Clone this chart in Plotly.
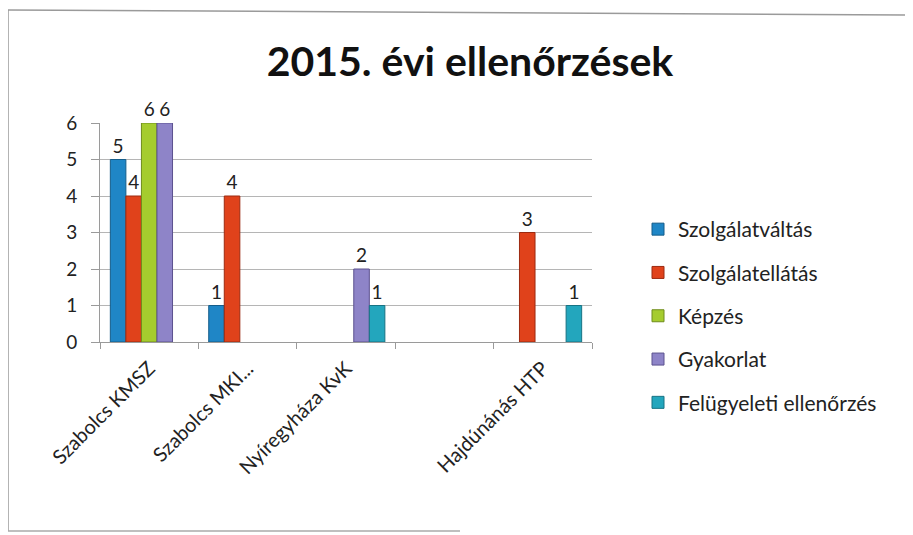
import plotly.graph_objects as go

# data
categories = ["Szabolcs KMSZ", "Szabolcs MKI...", "Nyíregyháza KvK", " ", "Hajdúnánás HTP"]
series_names = ["Szolgálatváltás", "Szolgálatellátás", "Képzés", "Gyakorlat", "Felügyeleti ellenőrzés"]
szolgalatvaltas = [5, 1, None, None, None]
szolgalatellatas = [4, 4, None, None, 3]
kepzes = [6, None, None, None, None]
gyakorlat = [6, None, 2, None, None]
felugyeleti = [None, None, 1, None, 1]
y_ticks = [0, 1, 2, 3, 4, 5, 6]

series_values = [szolgalatvaltas, szolgalatellatas, kepzes, gyakorlat, felugyeleti]
COLORS = ["#1f86c6", "#e0421b", "#a5cc2e", "#8e84c8", "#23a6bd"]
EDGES = ["#155d8a", "#9c2a10", "#6f8c1c", "#5c528f", "#177384"]

FONT = "Lato, 'Open Sans', sans-serif"

# the page body has an 8px margin, so the figure is drawn 8px in from the corner
OFF = 8
W, H = 913 - OFF, 535 - OFF
# plot area in page pixels: x 100..592, y 123..342
PX0, PX1, PY0, PY1 = 100, 592, 123, 342
L, R, T, B = PX0 - OFF, W - (PX1 - OFF), PY0 - OFF, H - (PY1 - OFF)


def px_x(x):
    # page pixel -> paper x
    return (x - PX0) / (PX1 - PX0)


def px_y(y):
    # page pixel -> paper y
    return (PY1 - y) / (PY1 - PY0)


fig = go.Figure()
for name, vals, col, edge in zip(series_names, series_values, COLORS, EDGES):
    fig.add_bar(
        x=categories,
        y=vals,
        name=name,
        legendgroup=name,
        marker=dict(color=col, line=dict(color=edge, width=1)),
        text=[("" if v is None else str(v)) for v in vals],
        textposition="outside",
        cliponaxis=False,
        textfont=dict(size=19, color="#222222", family=FONT),
    )

fig.update_layout(
    width=W,
    height=H,
    barmode="group",
    bargap=0.21,
    bargroupgap=0,
    paper_bgcolor="#ffffff",
    plot_bgcolor="#ffffff",
    font=dict(family=FONT, color="#222222", size=19),
    margin=dict(l=L, r=R, t=T, b=B, autoexpand=False),
    title=dict(
        text="<b>2015. évi ellenőrzések</b>",
        x=(470 - OFF) / W,
        xanchor="center",
        y=1 - (62 - OFF) / H,
        yanchor="middle",
        font=dict(size=41, family=FONT, color="#111111"),
    ),
    legend=dict(
        x=px_x(638),
        xanchor="left",
        y=px_y(209),
        yanchor="top",
        font=dict(size=21, family=FONT, color="#222222"),
        tracegroupgap=13,
        itemwidth=30,
        bgcolor="rgba(0,0,0,0)",
    ),
    showlegend=True,
    shapes=[
        dict(type="line", xref="paper", yref="paper",
             x0=px_x(8), x1=px_x(8), y0=px_y(10), y1=px_y(531),
             line=dict(color="#9a9a9a", width=1.5)),
        dict(type="line", xref="paper", yref="paper",
             x0=px_x(8), x1=px_x(913), y0=px_y(10), y1=px_y(15),
             line=dict(color="#9a9a9a", width=1.5)),
        dict(type="line", xref="paper", yref="paper",
             x0=px_x(8), x1=px_x(460), y0=px_y(531), y1=px_y(531),
             line=dict(color="#aaaaaa", width=1.5)),
    ],
)

fig.update_xaxes(
    type="category",
    tickangle=-45,
    tickfont=dict(size=20, family=FONT, color="#222222"),
    ticklabelstandoff=6,
    showgrid=False,
    showline=True,
    linecolor="#9a9a9a",
    ticks="outside",
    ticklen=6,
    tickcolor="#9a9a9a",
    tickson="boundaries",
)
fig.update_yaxes(
    range=[0, 6],
    tickvals=y_ticks,
    tickfont=dict(size=19, family=FONT, color="#222222"),
    ticklabelstandoff=10,
    showgrid=True,
    gridcolor="#b5b5b5",
    gridwidth=1,
    zeroline=False,
    showline=True,
    linecolor="#9a9a9a",
    ticks="outside",
    ticklen=8,
    tickcolor="#9a9a9a",
)

fig.write_html("out.html")
